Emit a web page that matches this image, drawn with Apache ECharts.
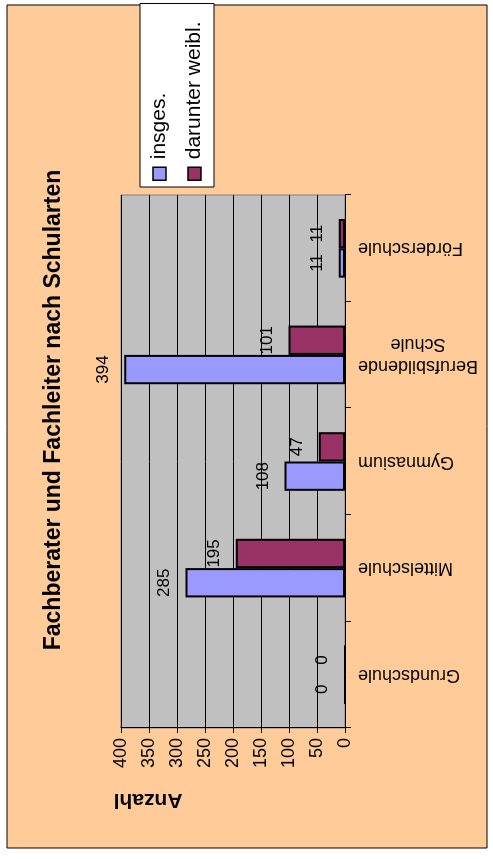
<!DOCTYPE html>
<html>
<head>
<meta charset="utf-8">
<script src="https://cdn.jsdelivr.net/npm/echarts@6/dist/echarts.min.js"></script>
<style>
  html, body { margin: 0; padding: 0; background: #fff; overflow: hidden; }
  /* the chart is laid out landscape and turned a quarter turn counter-clockwise */
  #chart {
    position: absolute; left: 0; top: 859px;
    width: 859px; height: 493px;
    transform: rotate(-90deg); transform-origin: 0 0;
  }
</style>
</head>
<body>
<div id="chart"></div>
<script>
// Schularten
const categories = ['Grundschule', 'Mittelschule', 'Gymnasium', 'Berufsbildende\nSchule', 'Förderschule'];
// Fachberater und Fachleiter insgesamt
const insgesamt = [0, 285, 108, 394, 11];
// darunter weiblich
const weiblich = [0, 195, 47, 101, 11];
// value axis range
const axisMin = 0, axisMax = 400, axisStep = 50;

const FONT = '"Liberation Sans", Arial, sans-serif';

const chart = echarts.init(document.getElementById('chart'), null, { renderer: 'canvas' });

chart.setOption({
  backgroundColor: '#ffffff',
  animation: false,
  title: {
    text: 'Fachberater und Fachleiter nach Schularten',
    left: 444,
    top: 37,
    textAlign: 'center',
    textStyle: { fontFamily: FONT, fontSize: 23, fontWeight: 'bold', color: '#000' }
  },
  graphic: [
    {
      type: 'rect', z: -100, silent: true,
      shape: { x: 11, y: 7, width: 843, height: 480 },
      style: { fill: '#FFCC99', stroke: '#000', lineWidth: 1 }
    },
    {
      type: 'text', silent: true,
      x: 59, y: 148, rotation: Math.PI / 2,
      style: {
        text: 'Anzahl', fill: '#000', align: 'center', verticalAlign: 'middle',
        font: 'bold 21px ' + FONT
      }
    }
  ],
  legend: {
    orient: 'vertical',
    left: 672, top: 140,
    padding: [9, 18, 9, 6],
    itemGap: 14,
    itemWidth: 13, itemHeight: 13,
    icon: 'rect',
    backgroundColor: '#fff',
    borderColor: '#000', borderWidth: 1,
    itemStyle: { borderColor: '#000', borderWidth: 1.5 },
    textStyle: { fontFamily: FONT, fontSize: 21, color: '#000', padding: [0, 0, 0, 3] },
    data: ['insges.', 'darunter weibl.']
  },
  grid: {
    left: 131, right: 195, top: 121, bottom: 148,
    show: true, backgroundColor: '#C0C0C0', borderColor: '#808080', borderWidth: 1
  },
  xAxis: {
    type: 'category',
    data: categories,
    axisLine: { lineStyle: { color: '#000', width: 1 } },
    axisTick: { show: true, inside: false, length: 6, lineStyle: { color: '#000' } },
    axisLabel: {
      rotate: 90, margin: 13, interval: 0,
      fontFamily: FONT, fontSize: 18, color: '#000', lineHeight: 22,
      formatter: v => v.split('\n').map(s => '{c|' + s + '}').join('\n'),
      rich: { c: { align: 'center', fontFamily: FONT, fontSize: 18, color: '#000', lineHeight: 22 } }
    }
  },
  yAxis: {
    type: 'value',
    min: axisMin, max: axisMax, interval: axisStep,
    axisLine: { show: true, lineStyle: { color: '#000', width: 1 } },
    axisTick: { show: true, inside: false, length: 5, lineStyle: { color: '#000' } },
    axisLabel: { margin: 10, fontFamily: FONT, fontSize: 18, color: '#000' },
    splitLine: { show: true, lineStyle: { color: '#000', width: 1 } }
  },
  series: [
    {
      name: 'insges.', type: 'bar', data: insgesamt,
      barGap: '0%', barCategoryGap: '45%',
      itemStyle: { color: '#9999FF', borderColor: '#000', borderWidth: 2 },
      label: { show: true, position: 'top', distance: 13, fontFamily: FONT, fontSize: 17, color: '#000' }
    },
    {
      name: 'darunter weibl.', type: 'bar', data: weiblich,
      itemStyle: { color: '#993366', borderColor: '#000', borderWidth: 2 },
      label: { show: true, position: 'top', distance: 13, fontFamily: FONT, fontSize: 17, color: '#000' }
    }
  ]
});
</script>
</body>
</html>
